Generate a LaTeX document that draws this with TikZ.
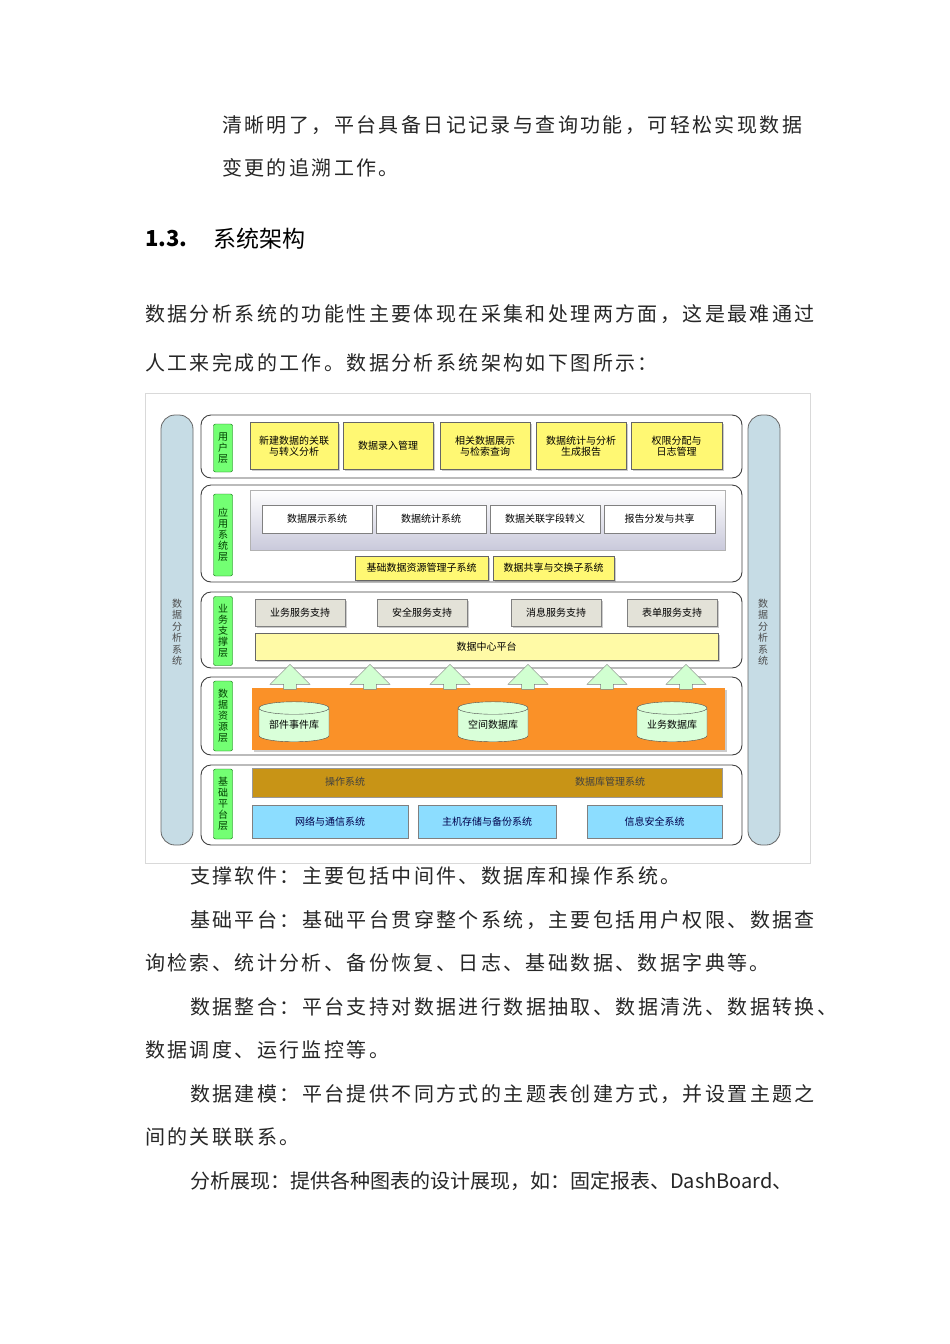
\documentclass[tikz,border=0pt]{standalone}
\usepackage{fontspec}
\setmainfont{Noto Sans CJK SC}
\newfontfamily\bodyf[LetterSpace=12]{Noto Sans CJK SC}
\newfontfamily\headf{Noto Sans CJK SC}
\usetikzlibrary{shapes.geometric,shapes.arrows,shadows}
\definecolor{brownbar}{RGB}{200,148,22}
\definecolor{orpanel}{RGB}{250,145,40}
\begin{document}
\begin{tikzpicture}[x=1pt,y=-1pt,
  body/.style={anchor=west,inner sep=0pt,font=\fontsize{20}{20}\bodyf,text=black!85},
  frame/.style={draw=black!75,line width=0.9pt,rounded corners=10pt,fill=white},
  pillar/.style={draw=black!60,line width=0.8pt,fill=cyan!15!teal!25,rounded corners=14pt},
  lab/.style={draw=green!40!black,fill=green!55,rounded corners=2pt,inner sep=0pt,font=\fontsize{10}{11}\selectfont,text=green!25!black,align=center},
  ybox/.style={draw=black!60,fill=yellow!55,inner sep=0pt,font=\fontsize{10}{10.5}\selectfont,align=center,drop shadow={opacity=0.4,shadow xshift=1.5pt,shadow yshift=-1.5pt}},
  wbox/.style={draw=black!50,fill=white,inner sep=0pt,font=\fontsize{10}{10}\selectfont},
  gbox/.style={draw=black!50,fill=yellow!15!gray!30,inner sep=0pt,font=\fontsize{10}{10}\selectfont,drop shadow={opacity=0.4,shadow xshift=1.5pt,shadow yshift=-1.5pt}},
  bbox/.style={draw=black!50,fill=blue!30!cyan!45,inner sep=0pt,font=\fontsize{10}{10}\selectfont,text=blue!30!black},
  cyl/.style={cylinder,shape border rotate=90,aspect=0.25,draw=black!70,fill=green!15,minimum width=70pt,minimum height=40pt,inner sep=0pt,font=\fontsize{10}{10}\selectfont},
  uparr/.style={single arrow,shape border rotate=90,draw=black!50,fill=green!18,minimum width=40pt,minimum height=25pt,single arrow head extend=9pt,inner sep=4pt}
]
\useasboundingbox (0,0) rectangle (950,1344);
\fill[white] (0,0) rectangle (950,1344);

\node[body] (t1) at (222,125) {清晰明了，平台具备日记记录与查询功能，可轻松实现数据};
\node[body] (t2) at (222,168) {变更的追溯工作。};
\node[anchor=west,inner sep=0pt,font=\fontsize{22}{22}\headf\bfseries] (h1) at (145,239) {1.3.};
\node[anchor=west,inner sep=0pt,font=\fontsize{23}{23}\headf] (h2) at (213,239) {系统架构};
\node[body] (t3) at (145,314) {数据分析系统的功能性主要体现在采集和处理两方面，这是最难通过};
\node[body] (t4) at (145,363) {人工来完成的工作。数据分析系统架构如下图所示：};

% diagram
\draw[black!15] (145,393) rectangle (810,863);
\draw[pillar] (161,415) rectangle (193,845);
\draw[pillar] (748,415) rectangle (780,845);
\node[font=\fontsize{10}{11.5}\selectfont,align=center,text=black!70] (pl) at (177,632) {数\\据\\分\\析\\系\\统};
\node[font=\fontsize{10}{11.5}\selectfont,align=center,text=black!70] (pr) at (763,632) {数\\据\\分\\析\\系\\统};

% user layer
\draw[frame] (201,415) rectangle (742,478);
\node[lab,minimum width=19pt,minimum height=48pt] (l1) at (223,448) {用\\户\\层};
\foreach \a/\b/\t [count=\i] in {250/338/新建数据的关联\\与转义分析,343/433/数据录入管理,440/530/相关数据展示\\与检索查询,536/626/数据统计与分析\\生成报告,631/722/权限分配与\\日志管理}
  \node[ybox,minimum width=\b-\a,minimum height=47pt] (u\i) at ({(\a+\b)/2},446) {\t};

% app layer
\draw[frame] (201,485) rectangle (742,582);
\node[lab,minimum width=19pt,minimum height=82pt] (l2) at (223,535) {应\\用\\系\\统\\层};
\shade[top color=white,bottom color=blue!20!gray!35,draw=black!30] (250,490) rectangle (725,550);
\foreach \a/\b/\t [count=\i] in {262/372/数据展示系统,376/486/数据统计系统,490/600/数据关联字段转义,604/715/报告分发与共享}
  \node[wbox,minimum width=\b-\a,minimum height=28pt] (a\i) at ({(\a+\b)/2},519) {\t};
\node[ybox,drop shadow={opacity=0},minimum width=133pt,minimum height=24pt] (s1) at (421.5,568) {基础数据资源管理子系统};
\node[ybox,drop shadow={opacity=0},minimum width=121pt,minimum height=24pt] (s2) at (553.5,568) {数据共享与交换子系统};

% business support layer
\draw[frame] (201,592) rectangle (742,668);
\node[lab,minimum width=19pt,minimum height=69pt] (l3) at (223,631) {业\\务\\支\\撑\\层};
\foreach \a/\b/\t [count=\i] in {255/345/业务服务支持,377/467/安全服务支持,511/601/消息服务支持,627/717/表单服务支持}
  \node[gbox,minimum width=\b-\a,minimum height=27pt] (g\i) at ({(\a+\b)/2},613) {\t};
\node[ybox,fill=yellow!35,minimum width=463pt,minimum height=27pt] (dc) at (486.5,647) {数据中心平台};

% data resource layer
\draw[frame] (201,677) rectangle (742,755);
\node[lab,minimum width=19pt,minimum height=70pt] (l4) at (223,716) {数\\据\\资\\源\\层};
\fill[orpanel,drop shadow={opacity=0.4,shadow xshift=1.5pt,shadow yshift=-1.5pt}] (252,688) rectangle (725,750);
\node[cyl] (c1) at (294,725) {部件事件库};
\node[cyl] (c2) at (493,725) {空间数据库};
\node[cyl] (c3) at (672,725) {业务数据库};
\foreach \x [count=\i] in {290,370,450,528,607,686}
  \node[uparr] (ar\i) at (\x,680) {};

% base layer
\draw[frame] (201,765) rectangle (742,845);
\node[lab,minimum width=19pt,minimum height=70pt] (l5) at (223,804) {基\\础\\平\\台\\层};
\fill[brownbar,draw=black!40] (252,768) rectangle (722,797);
\node[font=\fontsize{10}{10}\selectfont,text=black!75] (os) at (345,782) {操作系统};
\node[font=\fontsize{10}{10}\selectfont,text=black!75] (db) at (610,782) {数据库管理系统};
\foreach \a/\b/\t [count=\i] in {252/408/网络与通信系统,418/556/主机存储与备份系统,587/722/信息安全系统}
  \node[bbox,minimum width=\b-\a,minimum height=33pt] (b\i) at ({(\a+\b)/2},821.5) {\t};

\node[body] (t5) at (190,876) {支撑软件：主要包括中间件、数据库和操作系统。};
\node[body] (t6) at (190,920) {基础平台：基础平台贯穿整个系统，主要包括用户权限、数据查};
\node[body] (t7) at (145,963) {询检索、统计分析、备份恢复、日志、基础数据、数据字典等。};
\node[body] (t8) at (190,1007) {数据整合：平台支持对数据进行数据抽取、数据清洗、数据转换、};
\node[body] (t9) at (145,1050) {数据调度、运行监控等。};
\node[body] (t10) at (190,1094) {数据建模：平台提供不同方式的主题表创建方式，并设置主题之};
\node[body] (t11) at (145,1137) {间的关联联系。};
\node[body,font=\fontsize{20}{20}\headf] (t12) at (190,1181) {分析展现：提供各种图表的设计展现，如：固定报表、DashBoard、};
\end{tikzpicture}
\end{document}
